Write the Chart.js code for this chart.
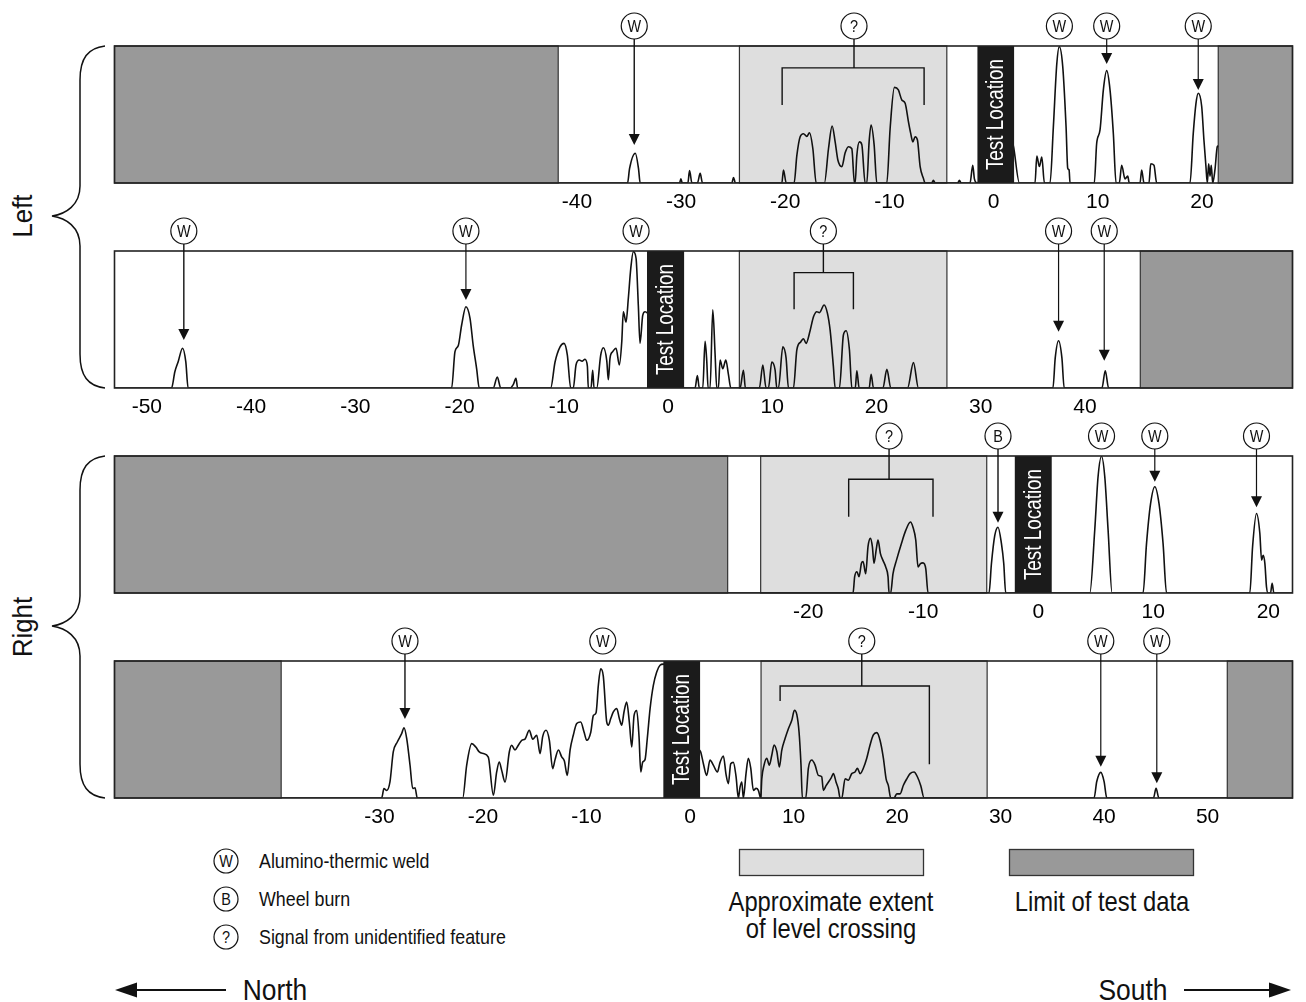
<!DOCTYPE html>
<html>
<head>
<meta charset="utf-8">
<title>Rail inspection signals around the test location</title>
<script src="https://cdn.jsdelivr.net/npm/chart.js@4.4.1/dist/chart.umd.min.js"></script>
<style>
  html, body { margin: 0; padding: 0; background: #fff; }
  #page { position: relative; width: 1306px; height: 1002px; overflow: hidden; }
  #page canvas { position: absolute; left: 0; }
  #deco { position: absolute; left: 0; top: 0; }
  #deco text { font-family: 'Liberation Sans', Arial, Helvetica, sans-serif; fill: #111; }
</style>
</head>
<body>
<div id="page">
  <svg id="deco" width="1306" height="1002" viewBox="0 0 1306 1002">
    <!-- rail braces -->
    <g fill="none" stroke="#111" stroke-width="1.5">
      <path d="M105,46 C88,48 80,58 80,80 L80,186 C80,205 66,214 52,216 C66,218 80,227 80,246 L80,354 C80,376 88,386 105,388"/>
      <path d="M105,456 C88,458 80,468 80,490 L80,596 C80,615 66,624 52,626 C66,628 80,637 80,656 L80,764 C80,786 88,796 105,798"/>
    </g>
    <text font-size="28" text-anchor="middle" transform="translate(32,216) rotate(-90) scale(0.92,1)">Left</text>
    <text font-size="28" text-anchor="middle" transform="translate(32,627) rotate(-90) scale(0.92,1)">Right</text>

    <!-- key: feature symbols -->
    <g stroke="#111" stroke-width="1.2" fill="#fff">
      <circle cx="226" cy="861" r="12"/>
      <circle cx="226" cy="899" r="12"/>
      <circle cx="226" cy="937" r="12"/>
    </g>
    <text font-size="17" text-anchor="middle" transform="translate(226,867) scale(0.85,1)">W</text>
    <text font-size="17" text-anchor="middle" transform="translate(226,905) scale(0.85,1)">B</text>
    <text font-size="17" text-anchor="middle" transform="translate(226,943) scale(0.85,1)">?</text>
    <text font-size="21" transform="translate(259,868) scale(0.85,1)">Alumino-thermic weld</text>
    <text font-size="21" transform="translate(259,906) scale(0.85,1)">Wheel burn</text>
    <text font-size="21" transform="translate(259,944) scale(0.85,1)">Signal from unidentified feature</text>

    <!-- key: zones -->
    <rect x="739.5" y="849.5" width="184" height="26" fill="#dedede" stroke="#333" stroke-width="1.3"/>
    <rect x="1009.5" y="849.5" width="184" height="26" fill="#999999" stroke="#333" stroke-width="1.3"/>
    <text font-size="28" text-anchor="middle" transform="translate(831,911) scale(0.85,1)">Approximate extent</text>
    <text font-size="28" text-anchor="middle" transform="translate(831,938) scale(0.85,1)">of level crossing</text>
    <text font-size="28" text-anchor="middle" transform="translate(1102,911) scale(0.85,1)">Limit of test data</text>

    <!-- direction -->
    <g stroke="#111" stroke-width="2.2">
      <line x1="132" y1="990" x2="226" y2="990"/>
      <line x1="1184" y1="990" x2="1274" y2="990"/>
    </g>
    <g fill="#111">
      <polygon points="115,990 137,982.5 137,997.5"/>
      <polygon points="1291,990 1269,982.5 1269,997.5"/>
    </g>
    <text font-size="30" text-anchor="middle" transform="translate(275,1000) scale(0.88,1)">North</text>
    <text font-size="30" text-anchor="middle" transform="translate(1133,1000) scale(0.88,1)">South</text>
  </svg>
  <canvas id="leftUpper" width="1306" height="217" style="top:6px"></canvas>
  <canvas id="leftLower" width="1306" height="217" style="top:211px"></canvas>
  <canvas id="rightUpper" width="1306" height="217" style="top:416px"></canvas>
  <canvas id="rightLower" width="1306" height="217" style="top:621px"></canvas>
</div>
<script>
// ---- Distance along the rail (m), negative = north of the test location ----

// axis extents of each record
const rangeLeftUpper  = [-84.4, 28.7];
const rangeLeftLower  = [-53.1, 59.9];
const rangeRightUpper = [-80.3, 22.1];
const rangeRightLower = [-55.6, 58.2];

// labelled distances
const ticksLeftUpper  = [-40, -30, -20, -10, 0, 10, 20];
const ticksLeftLower  = [-50, -40, -30, -20, -10, 0, 10, 20, 30, 40];
const ticksRightUpper = [-20, -10, 0, 10, 20];
const ticksRightLower = [-30, -20, -10, 0, 10, 20, 30, 40, 50];

// stretches with no test data
const limitsLeftUpper  = [[-84.4, -41.8], [21.57, 28.7]];
const limitsLeftLower  = [[45.3, 59.9]];
const limitsRightUpper = [[-80.3, -27.0]];
const limitsRightLower = [[-55.6, -39.5], [51.9, 58.2]];

// level crossing extent, per record (left upper, left lower, right upper, right lower)
const crossingExtent = [[-24.4, -4.49], [6.84, 26.75], [-24.13, -4.48], [6.86, 28.7]];

// test location span, per record
const testLocation = [[-1.55, 1.97], [-2.02, 1.54], [-2.04, 1.17], [-2.58, 0.97]];

// identified features: [type, distance, arrow tip level (% of full scale) or null]
const featuresLeftUpper  = [['W', -34.5, 27.7], ['W', 6.32, null], ['W', 10.86, 86.9], ['W', 19.65, 67.9]];
const featuresLeftLower  = [['W', -46.45, 35], ['W', -19.39, 64.2], ['W', -3.07, null], ['W', 37.46, 41.1], ['W', 41.84, 19.9]];
const featuresRightUpper = [['B', -3.5, 51.3], ['W', 5.5, null], ['W', 10.13, 81.2], ['W', 18.97, 62.6]];
const featuresRightLower = [['W', -27.54, 57.7], ['W', -8.43, null], ['W', 39.68, 22.8], ['W', 45.09, 10.7]];

// unidentified signal groups: [label distance, from, to, bar level, left leg end, right leg end]
const unknownGroups = [
  [-13.4, -20.3, -6.67, 84, 57, 57],
  [14.9, 12.09, 17.78, 84.2, 57.4, 57.4],
  [-12.97, -16.48, -9.15, 83, 55.7, 55.7],
  [16.59, 8.7, 23.12, 81.8, 70.8, 24.6]
];

// signal amplitude (% of full scale) against distance
const traceLeftUpper = [
  [-41.8,0],[-35.14,0],[-34.95,10.5],[-34.4,21.7],[-34.09,10.5],[-33.93,0],
  [-30.15,0],[-30.02,3],[-29.89,0],[-29.35,0],[-29.19,9],[-28.96,0],[-28.43,0],[-28.17,7],[-27.95,0],
  [-25.13,0],[-24.97,4],[-24.78,0],
  [-20.33,0],[-20.17,9.5],[-19.91,0],
  [-19.15,0],[-18.89,20],[-18.57,33.8],[-18.25,36],[-17.93,34],[-17.68,36.7],[-17.35,25],[-17.03,0],
  [-16.24,0],[-15.85,25],[-15.5,41.6],[-15.21,30],[-14.95,16.8],[-14.57,11.9],[-14.25,22],[-13.94,26.5],[-13.61,25],[-13.36,0],
  [-13.29,0],[-13.13,20],[-12.88,30],[-12.65,28],[-12.33,0],
  [-12.17,0],[-11.95,30],[-11.76,42.3],[-11.47,28],[-11.21,0],
  [-10.25,0],[-9.93,40],[-9.52,69.8],[-9.14,67.9],[-8.81,60.6],[-8.49,58.2],[-8.18,45],[-7.95,36],[-7.75,30],[-7.53,33.8],[-7.31,31.4],[-7.05,11.9],[-6.74,3.4],[-6.57,0],
  [-5.93,0],[-5.78,2],[-5.61,0],
  [-3.44,0],[-3.28,2],[-3.12,0],
  [-2.26,0],[-2.0,13],[-1.84,3],[-1.6,0],[1.2,40],[1.9,27],[2.48,0],
  [3.98,0],[4.15,19.7],[4.4,12],[4.63,19],[4.88,0],
  [5.42,0],[5.74,41],[6.07,87],[6.31,99.5],[6.64,85],[6.96,41],[7.12,10.7],[7.25,9.5],[7.34,0],
  [9.67,0],[9.9,29],[10.22,38.7],[10.54,68],[10.86,82],[11.18,68],[11.5,36],[11.76,0],
  [12.07,0],[12.3,13],[12.62,3],[12.88,5],[13.03,0],
  [14.06,0],[14.22,9.5],[14.44,0],
  [14.92,0],[15.09,14],[15.4,13],[15.66,0],
  [18.86,0],[19.17,36],[19.43,58],[19.65,65.5],[19.98,56],[20.2,31],[20.39,12],[20.52,0],
  [20.65,14],[20.78,5],[20.9,13],[21.04,0],[21.26,10],[21.48,26.5],[21.57,27]
];

const traceLeftLower = [
  [-53.1,0],[-47.63,0],[-47.31,11.9],[-47.0,19],[-46.57,29],[-46.26,19],[-46.04,0],
  [-20.76,0],[-20.44,26.5],[-20.12,31],[-19.8,46],[-19.39,59.3],[-19.0,51],[-18.69,31],[-18.36,14],[-18.11,0],
  [-16.77,0],[-16.38,8],[-16.05,0],
  [-15.16,0],[-14.85,2.5],[-14.59,7],[-14.43,0],
  [-11.26,0],[-10.84,19],[-10.36,30],[-9.98,32.6],[-9.66,24],[-9.34,0],
  [-9.09,0],[-8.83,16.8],[-8.51,20.4],[-8.25,19.5],[-7.97,21],[-7.74,16],[-7.65,0],
  [-7.39,0],[-7.23,13],[-7.1,0],
  [-6.84,0],[-6.46,24],[-6.21,29.4],[-5.88,20],[-5.73,6],[-5.57,21.7],[-5.31,26.5],[-4.99,29],[-4.67,16.8],
  [-4.44,33.8],[-4.29,55.7],[-4.03,48],[-3.81,65.5],[-3.58,87],[-3.33,99.5],[-3.07,94.7],[-2.85,60],[-2.69,32.6],
  [-2.43,53],[-2.21,55.7],[-0.5,30],[1.6,0],
  [2.59,0],[2.81,9],[3.0,0],
  [3.33,0],[3.55,34],[3.71,20],[3.84,0],
  [4.03,0],[4.29,57],[4.51,25],[4.67,0],
  [4.83,0],[4.99,20.4],[5.25,14],[5.54,20.4],[5.79,10],[6.02,0],
  [6.91,0],[7.23,13],[7.42,0],
  [8.76,0],[9.09,16.8],[9.4,0],
  [9.63,0],[9.95,19],[10.27,13],[10.43,0],
  [10.59,0],[11.01,30],[11.32,22],[11.55,0],
  [12.03,0],[12.35,27.7],[12.74,33.8],[12.99,36],[13.24,32.6],[13.63,42],[13.95,52],[14.27,55.7],[14.52,55],
  [14.97,60.6],[15.29,54.5],[15.55,42],[15.86,15.6],[16.03,0],
  [16.44,0],[16.82,38.7],[17.08,41.8],[17.4,27.7],[17.63,0],
  [17.96,0],[18.11,12.6],[18.33,0],
  [19.29,0],[19.48,10],[19.7,0],
  [20.61,0],[20.99,13.6],[21.37,0],
  [22.97,0],[23.54,18.5],[24.02,0],
  [36.92,0],[37.14,22],[37.46,34.5],[37.78,22],[38.0,0],
  [41.62,0],[41.94,12.6],[42.26,0],[45.3,0]
];

const traceRightUpper = [
  [-27.0,0],[-16.1,0],[-15.96,11.9],[-15.76,15.5],[-15.58,11.9],[-15.37,21.7],[-15.23,23],[-15.0,14],
  [-14.8,33.8],[-14.59,39.9],[-14.42,33.8],[-14.28,21.7],[-14.07,32.6],[-13.93,38.7],[-13.72,28.7],
  [-13.5,23.8],[-13.26,19],[-13.06,11.9],[-12.97,0],
  [-12.83,0],[-12.63,14],[-12.33,23.8],[-11.9,36],[-11.52,45.7],[-11.11,51.8],[-10.89,48],[-10.65,38.7],
  [-10.45,19],[-10.24,21.5],[-10.02,22],[-9.78,17.8],[-9.58,0],
  [-4.28,0],[-4.07,21.5],[-3.78,42],[-3.5,48],[-3.2,36],[-3.0,21.5],[-2.83,0],
  [4.48,0],[4.91,46],[5.2,85],[5.5,99.8],[5.78,85],[6.07,46],[6.42,0],
  [9.11,0],[9.41,36],[9.76,65],[10.13,77.6],[10.5,65],[10.85,36],[11.15,0],
  [18.39,0],[18.63,33.8],[18.97,58],[19.26,43.6],[19.41,24],[19.55,27.5],[19.7,21.5],[19.84,4.4],[19.98,0],
  [20.19,0],[20.33,7],[20.48,0],[22.1,0]
];

const traceRightLower = [
  [-39.5,0],[-29.79,0],[-29.57,6.9],[-29.3,5.5],[-28.99,11.7],[-28.67,33.6],[-28.28,40.9],[-27.86,47],
  [-27.63,51.3],[-27.37,43.4],[-27.05,23.9],[-26.79,6.9],[-26.57,7.5],[-26.35,0],
  [-21.96,0],[-21.58,23.9],[-21.09,39.7],[-20.68,37],[-20.36,33.6],[-19.97,32.5],[-19.49,29.9],[-19.0,2],
  [-18.68,19],[-18.43,26.3],[-18.19,20],[-17.87,11.7],[-17.46,33.6],[-17.23,38.5],[-16.91,35],[-16.59,38.5],
  [-16.26,42.1],[-15.94,43],[-15.53,49.4],[-15.2,43],[-14.81,45.8],[-14.49,32.4],[-14.23,45],[-13.91,49.4],
  [-13.59,42],[-13.27,21.4],[-13.04,28],[-12.72,35],[-12.4,30],[-12.14,27],[-11.86,16.5],[-11.59,35],
  [-11.28,45.8],[-10.95,54.3],[-10.56,55.5],[-10.24,48.2],[-9.98,42.1],[-9.59,48],[-9.34,60.2],[-9.08,62.2],
  [-8.86,82.1],[-8.63,94.3],[-8.38,89],[-8.05,55.5],[-7.89,53.1],[-7.66,58],[-7.41,62.8],[-7.08,65.3],
  [-6.83,58],[-6.6,53.1],[-6.38,62.8],[-6.12,70],[-5.86,55],[-5.63,37.2],[-5.41,60.2],[-5.15,63.9],
  [-4.93,45],[-4.76,19],[-4.57,26.3],[-4.35,28],[-4.13,43.4],[-3.86,65.3],[-3.55,82.1],[-3.22,92],
  [-2.9,96.9],[-2.58,97.7],[-1.0,60],[0.9,35],
  [1.03,33.6],[1.29,25],[1.61,16.5],[1.93,27.7],[2.25,24],[2.64,19],[2.9,26],[3.22,30.7],[3.48,17],[3.7,10.5],
  [3.93,25],[4.18,26],[4.44,16],[4.67,0],[4.83,8],[5.0,11.7],[5.15,0],[5.41,18],[5.63,29],[5.86,22],[6.12,5.6],
  [6.38,7],[6.6,5.6],[6.83,0],[6.93,14],[7.15,24],[7.41,29],[7.66,24],[7.89,31],[8.12,38.7],[8.38,34],
  [8.63,22.6],[8.86,34.8],[9.18,43.4],[9.5,50.6],[9.83,56.7],[10.08,64],[10.31,61],[10.53,48.2],[10.72,24],
  [10.85,0],[11.18,0],[11.43,21.7],[11.76,27.7],[12.08,24],[12.4,16.5],[12.72,15.5],[12.88,5.6],[13.14,9],
  [13.36,11.5],[13.62,14.5],[13.85,17.8],[14.11,11.5],[14.33,6.5],[14.49,0],[14.66,0],[14.98,14],[15.29,13],
  [15.62,17.8],[15.94,19],[16.17,21.7],[16.43,17.8],[16.74,21.7],[17.07,29],[17.39,38.7],[17.71,46],[18.04,47.7],
  [18.36,42],[18.68,29],[18.94,14],[19.16,9],[19.39,0],[19.71,0],[19.97,3],[20.29,3],[20.61,9.3],[20.94,14],
  [21.26,17.8],[21.64,19],[21.96,15.5],[22.29,9],[22.61,0],
  [39.03,0],[39.29,12],[39.68,18.7],[40.0,12],[40.26,0],
  [44.77,0],[45.02,7],[45.29,0],[51.9,0]
];

// ---- drawing ----
const FONT = "'Liberation Sans', Arial, Helvetica, sans-serif";
const INK = '#111';

function narrowText(ctx, text, x, y, size, squeeze, rotate) {
  ctx.save();
  ctx.translate(x, y);
  if (rotate) ctx.rotate(rotate);
  ctx.scale(squeeze, 1);
  ctx.font = size + 'px ' + FONT;
  ctx.textAlign = 'center';
  ctx.textBaseline = 'middle';
  ctx.fillText(text, 0, 0);
  ctx.restore();
}

function markerCircle(ctx, label, px, cy) {
  ctx.beginPath();
  ctx.arc(px, cy, 13, 0, Math.PI * 2);
  ctx.fillStyle = '#fff';
  ctx.fill();
  ctx.lineWidth = 1.2;
  ctx.strokeStyle = INK;
  ctx.stroke();
  ctx.fillStyle = INK;
  narrowText(ctx, label, px, cy + 1, 17, 0.85, 0);
}

function trackOverlay(rec) {
  return {
    id: 'trackOverlay',
    beforeDatasetsDraw(chart) {
      const { ctx, chartArea: a, scales: { x } } = chart;
      const clampPx = v => Math.min(a.right, Math.max(a.left, x.getPixelForValue(v)));
      ctx.save();
      ctx.lineWidth = 1.2;
      ctx.strokeStyle = '#333';
      const [c0, c1] = rec.crossing.map(clampPx);
      ctx.fillStyle = '#dedede';
      ctx.fillRect(c0, a.top, c1 - c0, a.bottom - a.top);
      ctx.strokeRect(c0, a.top, c1 - c0, a.bottom - a.top);
      rec.limits.forEach(([lo, hi]) => {
        const p0 = clampPx(lo), p1 = clampPx(hi);
        ctx.fillStyle = '#999999';
        ctx.fillRect(p0, a.top, p1 - p0, a.bottom - a.top);
        ctx.strokeRect(p0, a.top, p1 - p0, a.bottom - a.top);
      });
      ctx.restore();
    },
    afterDatasetsDraw(chart) {
      const { ctx, chartArea: a, scales: { x, y } } = chart;
      ctx.save();
      // test location bar
      const t0 = x.getPixelForValue(rec.testLoc[0]);
      const t1 = x.getPixelForValue(rec.testLoc[1]);
      ctx.fillStyle = '#1b1b1b';
      ctx.fillRect(t0, a.top, t1 - t0, a.bottom - a.top);
      ctx.fillStyle = '#fff';
      narrowText(ctx, 'Test Location', (t0 + t1) / 2 + 1, (a.top + a.bottom) / 2, 23, 0.82, -Math.PI / 2);

      // record frame
      ctx.lineWidth = 1.6;
      ctx.strokeStyle = '#222';
      ctx.strokeRect(a.left, a.top, a.right - a.left, a.bottom - a.top);

      const cy = a.top - 20;
      ctx.strokeStyle = INK;
      ctx.fillStyle = INK;
      ctx.lineWidth = 1.4;

      // identified features with pointers
      rec.features.forEach(([label, dist, tip]) => {
        const px = x.getPixelForValue(dist);
        if (tip !== null) {
          const ty = y.getPixelForValue(tip);
          ctx.beginPath();
          ctx.moveTo(px, cy + 13);
          ctx.lineTo(px, ty - 10);
          ctx.stroke();
          ctx.beginPath();
          ctx.moveTo(px - 5.5, ty - 11);
          ctx.lineTo(px + 5.5, ty - 11);
          ctx.lineTo(px, ty);
          ctx.closePath();
          ctx.fill();
        }
        markerCircle(ctx, label, px, cy);
      });

      // unidentified group bracket
      const [mid, from, to, bar, legL, legR] = rec.group;
      const pm = x.getPixelForValue(mid);
      const pf = x.getPixelForValue(from);
      const pt = x.getPixelForValue(to);
      const by = y.getPixelForValue(bar);
      ctx.strokeStyle = INK;
      ctx.lineWidth = 1.4;
      ctx.beginPath();
      ctx.moveTo(pm, cy + 13);
      ctx.lineTo(pm, by);
      ctx.moveTo(pf, y.getPixelForValue(legL));
      ctx.lineTo(pf, by);
      ctx.lineTo(pt, by);
      ctx.lineTo(pt, y.getPixelForValue(legR));
      ctx.stroke();
      markerCircle(ctx, '?', pm, cy);
      ctx.restore();
    }
  };
}

function drawRecord(canvasId, rec) {
  return new Chart(document.getElementById(canvasId), {
    type: 'line',
    data: {
      datasets: [{
        data: rec.trace.map(([d, amp]) => ({ x: d, y: amp })),
        borderColor: INK,
        borderWidth: 1.6,
        pointRadius: 0,
        fill: false,
        cubicInterpolationMode: 'monotone'
      }]
    },
    options: {
      responsive: false,
      animation: false,
      events: [],
      devicePixelRatio: 1,
      layout: { padding: { top: 40, left: 114.5, right: 13.5, bottom: 0 } },
      plugins: { legend: { display: false }, tooltip: { enabled: false } },
      scales: {
        x: {
          type: 'linear',
          bounds: 'data',
          min: rec.range[0],
          max: rec.range[1],
          grid: { display: false, drawTicks: false },
          border: { display: false },
          afterBuildTicks: scale => { scale.ticks = rec.ticks.map(v => ({ value: v })); },
          afterFit: scale => { scale.height = 40; },
          ticks: {
            autoSkip: false,
            maxRotation: 0,
            padding: 7,
            color: '#000',
            font: { family: FONT, size: 21 },
            callback: v => String(v)
          }
        },
        y: { display: false, min: 0, max: 100 }
      }
    },
    plugins: [trackOverlay(rec)]
  });
}

drawRecord('leftUpper', {
  range: rangeLeftUpper, ticks: ticksLeftUpper, limits: limitsLeftUpper,
  crossing: crossingExtent[0], testLoc: testLocation[0],
  features: featuresLeftUpper, group: unknownGroups[0], trace: traceLeftUpper
});
drawRecord('leftLower', {
  range: rangeLeftLower, ticks: ticksLeftLower, limits: limitsLeftLower,
  crossing: crossingExtent[1], testLoc: testLocation[1],
  features: featuresLeftLower, group: unknownGroups[1], trace: traceLeftLower
});
drawRecord('rightUpper', {
  range: rangeRightUpper, ticks: ticksRightUpper, limits: limitsRightUpper,
  crossing: crossingExtent[2], testLoc: testLocation[2],
  features: featuresRightUpper, group: unknownGroups[2], trace: traceRightUpper
});
drawRecord('rightLower', {
  range: rangeRightLower, ticks: ticksRightLower, limits: limitsRightLower,
  crossing: crossingExtent[3], testLoc: testLocation[3],
  features: featuresRightLower, group: unknownGroups[3], trace: traceRightLower
});
</script>
</body>
</html>
